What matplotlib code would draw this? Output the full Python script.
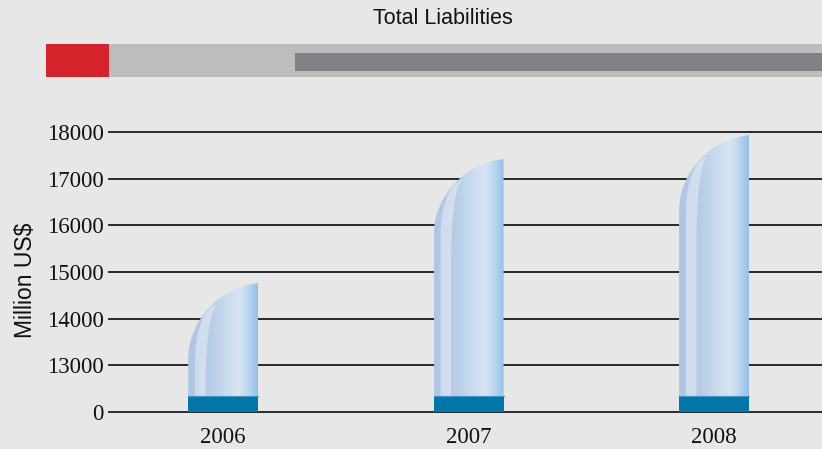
import numpy as np
import matplotlib
matplotlib.use("Agg")
from matplotlib import pyplot as plt
from matplotlib.patches import Polygon, Rectangle
from matplotlib.colors import LinearSegmentedColormap

years = ["2006", "2007", "2008"]
liabilities = [14760, 17420, 17935]
tick_values = [12000, 13000, 14000, 15000, 16000, 17000, 18000]
tick_labels = ["0", "13000", "14000", "15000", "16000", "17000", "18000"]

bg = "#e7e7e7"
W, H = 822, 449

fig = plt.figure(figsize=(W / 100, H / 100), dpi=100, facecolor=bg)

# header decoration
def px_rect(x0, y0, x1, y1, color):
    fig.add_artist(Rectangle((x0 / W, 1 - y1 / H), (x1 - x0) / W, (y1 - y0) / H,
                             transform=fig.transFigure, color=color, lw=0))

px_rect(109, 44, 822, 77, "#bcbdbf")
px_rect(295, 53, 822, 71, "#818285")
px_rect(46, 44, 109, 77, "#d4232a")
fig.text(443 / W, 1 - 19 / H, "Total Liabilities", ha="center", va="center",
         fontsize=15.5, family="Liberation Sans", color="#111111")

ax = fig.add_axes([109 / W, (H - 412) / H, (W - 109) / W, 280 / H])
ax.set_facecolor(bg)
for s in ax.spines.values():
    s.set_visible(False)

for t in tick_values:
    ax.axhline(t, color="#1a1a1a", lw=1.3, zorder=1, clip_on=False)

grad = LinearSegmentedColormap.from_list("bar", [
    (0.0, "#afc6e3"), (0.3, "#b7cce6"), (0.55, "#c9dbef"),
    (0.72, "#d6e5f5"), (0.82, "#c6dbf2"), (1.0, "#94c0e9")])

bottom = tick_values[0]
width = 0.285
curve_h = 1650
base_h = 350
xs = np.arange(len(years))
t0 = 0.12
t = np.linspace(t0, np.pi / 2, 60)

for x, v in zip(xs, liabilities):
    x0, x1 = x - width / 2, x + width / 2
    # rounded top: quarter ellipse, slightly tilted at the top right
    a = width / (1 - np.sin(t0))
    cx = x1 + a * np.sin(t0) - a * np.sin(t)
    cy = (v - curve_h) + curve_h * np.cos(t) / np.cos(t0)
    pts = [(x1, bottom)] + list(zip(cx, cy)) + [(x0, bottom)]
    shape = Polygon(pts, closed=True, facecolor="none", edgecolor="none")
    ax.add_patch(shape)
    img = ax.imshow(np.linspace(0, 1, 256).reshape(1, -1), cmap=grad,
                    extent=[x0, x1, bottom, v], aspect="auto", zorder=2,
                    interpolation="bilinear")
    img.set_clip_path(shape)

    # highlight stripe
    px = x0 + 0.42 * width
    s = np.linspace(0, np.pi / 2, 40)
    ox = px - 0.32 * width * np.sin(s)
    oy = (v - curve_h) + 0.72 * curve_h * np.cos(s)
    ix = px - 0.17 * width * np.sin(s)
    iy = (v - 1.3 * curve_h) + 1.02 * curve_h * np.cos(s)
    hp = list(zip(ox, oy)) + [(x0 + 0.1 * width, bottom + base_h),
                              (x0 + 0.25 * width, bottom + base_h)] + list(zip(ix[::-1], iy[::-1]))
    ax.add_patch(Polygon(hp, closed=True, facecolor="white", alpha=0.38,
                         edgecolor="none", zorder=3))

    ax.add_patch(Rectangle((x0, bottom), width, base_h, facecolor="#0077a7",
                           edgecolor="none", zorder=4))
    ax.plot([x0, x1], [bottom + base_h, bottom + base_h], color="#4a92c6",
            lw=0.8, zorder=4)

ax.set_xlim(-0.465, 2.44)
ax.set_ylim(bottom, tick_values[-1])
ax.set_yticks(tick_values)
ax.set_yticklabels(tick_labels)
ax.set_xticks(xs)
ax.set_xticklabels(years)
ax.tick_params(axis="y", length=0, pad=4)
ax.tick_params(axis="x", length=0, pad=11)
for lab in ax.get_xticklabels() + ax.get_yticklabels():
    lab.set_family("Liberation Serif")
    lab.set_fontsize(16.5)
    lab.set_color("#111111")

fig.text(25 / W, 1 - 280 / H, "Million US$", rotation=90, ha="center",
         va="center", fontsize=16.5, family="Liberation Sans", color="#111111")

fig.savefig("out.png", dpi=100, facecolor=bg)
